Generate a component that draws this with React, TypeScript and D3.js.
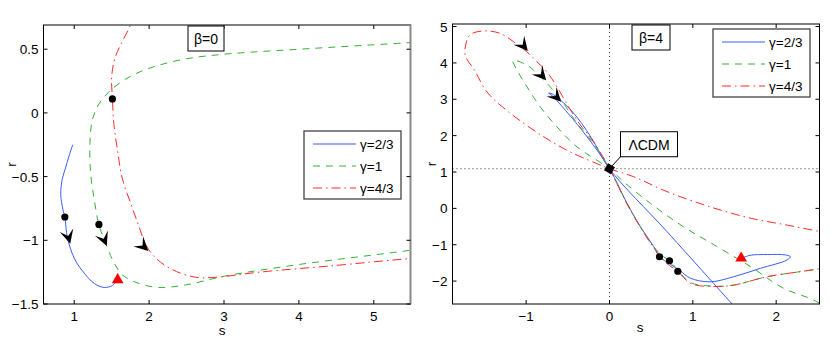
import React, { useEffect, useRef } from "react";
import * as d3 from "d3";

type Pt = [number, number];

// ---- beta = 0 panel (left) ----
const b0Blue: Pt[] = [
	[0.98, -0.25], [0.93, -0.34], [0.88, -0.44], [0.84, -0.52], [0.82, -0.64],
	[0.85, -0.76], [0.875, -0.82], [0.91, -0.98], [1.0, -1.14], [1.11, -1.24],
	[1.27, -1.34], [1.4, -1.37], [1.51, -1.355], [1.58, -1.31],
];
const b0Green: Pt[] = [
	[5.7, 0.56], [5.44, 0.55], [4.01, 0.5], [2.99, 0.46], [2.45, 0.42], [2.0, 0.35],
	[1.73, 0.28], [1.49, 0.18], [1.33, 0.07], [1.24, -0.06], [1.21, -0.24],
	[1.22, -0.48], [1.27, -0.69], [1.33, -0.88], [1.4, -0.99], [1.51, -1.15],
	[1.64, -1.27], [1.87, -1.34], [2.13, -1.37], [2.49, -1.35], [3.02, -1.28],
	[4.0, -1.19], [5.47, -1.08], [5.7, -1.06],
];
const b0Red: Pt[] = [
	[1.8, 0.78], [1.75, 0.69], [1.55, 0.44], [1.5, 0.28], [1.51, 0.12], [1.53, -0.09],
	[1.58, -0.3], [1.64, -0.51], [1.76, -0.72], [1.87, -0.9], [1.96, -1.04],
	[2.09, -1.14], [2.31, -1.23], [2.62, -1.29], [2.89, -1.29], [3.47, -1.25],
	[4.44, -1.2], [5.47, -1.145], [5.7, -1.14],
];
const b0Dots: Pt[] = [[0.875, -0.817], [1.33, -0.875], [1.51, 0.11]];
const b0Triangles: Pt[] = [[1.58, -1.31]];
// arrow tip and a point further along the curve (gives the direction)
const b0Arrows: [Pt, Pt][] = [
	[[0.947, -1.027], [1.0, -1.14]],
	[[1.435, -1.045], [1.51, -1.15]],
	[[1.99, -1.084], [2.09, -1.14]],
];

// ---- beta = 4 panel (right) ----
const b4Blue: Pt[] = [
	[1.59, -1.37], [1.69, -1.29], [1.9, -1.27], [2.11, -1.28], [2.17, -1.33],
	[2.13, -1.42], [1.81, -1.65], [1.49, -1.88], [1.21, -2.02], [0.97, -1.92],
	[0.85, -1.72], [0.72, -1.52], [0.6, -1.33], [0.53, -1.05], [0.37, -0.5],
	[0.21, 0.14], [0, 1.09], [-0.27, 1.97], [-0.5, 2.62], [-0.69, 3.1], [-0.73, 3.17],
	[-0.69, 3.15], [-0.45, 2.67], [-0.22, 1.95], [0, 1.09], [0.69, -0.64], [1.6, -2.96],
];
const b4Green: Pt[] = [
	[2.65, -2.8], [2.45, -2.52], [2.09, -2.2], [1.69, -1.6], [1.29, -1.05], [0.89, -0.51],
	[0.49, 0.14], [0.17, 0.73], [0, 1.09], [-0.39, 1.69], [-0.63, 2.24], [-0.83, 2.79],
	[-0.99, 3.34], [-1.13, 3.89], [-1.16, 4.07], [-0.99, 3.94], [-0.83, 3.62],
	[-0.71, 3.34], [-0.55, 2.88], [-0.39, 2.34], [-0.27, 2.01], [-0.12, 1.55], [0, 1.09],
	[0.21, 0.14], [0.37, -0.5], [0.53, -1.05], [0.63, -1.3], [0.72, -1.44], [0.85, -1.78],
	[0.97, -2.04], [1.25, -2.14], [1.49, -2.11], [1.89, -1.88], [2.29, -1.74], [2.65, -1.62],
];
const b4Red: Pt[] = [
	[2.65, -0.69], [2.53, -0.64], [2.13, -0.46], [1.69, -0.27], [1.21, 0.04], [0.69, 0.46],
	[0.29, 0.87], [0, 1.09], [-0.15, 1.23], [-0.47, 1.55], [-0.79, 1.97], [-1.21, 2.65],
	[-1.47, 3.2], [-1.62, 3.8], [-1.73, 4.2], [-1.72, 4.55], [-1.67, 4.78], [-1.51, 4.88],
	[-1.31, 4.81], [-1.15, 4.58], [-0.99, 4.3], [-0.87, 4.03], [-0.75, 3.75], [-0.63, 3.34],
	[-0.49, 2.79], [-0.35, 2.29], [-0.25, 2.01], [-0.1, 1.5], [0, 1.09], [0.21, 0.12],
	[0.37, -0.52], [0.53, -1.08], [0.68, -1.5], [0.82, -1.73], [0.97, -2.06], [1.25, -2.15],
	[1.49, -2.11], [1.89, -1.88], [2.29, -1.74], [2.65, -1.62],
];
const b4Dots: Pt[] = [[0.6, -1.33], [0.72, -1.44], [0.82, -1.73]];
const b4Triangles: Pt[] = [[1.58, -1.37]];
const b4Arrows: [Pt, Pt][] = [
	[[-0.98, 4.33], [-0.87, 4.03]],
	[[-0.76, 3.52], [-0.63, 3.18]],
	[[-0.58, 2.93], [-0.45, 2.62]],
];
const lcdmPoint: Pt = [0, 1.09];

// ticks and labels
const b0XTicks = [1, 2, 3, 4, 5];
const b0YTicks = [-1.5, -1, -0.5, 0, 0.5];
const b4XTicks = [-1, 0, 1, 2];
const b4YTicks = [-2, -1, 0, 1, 2, 3, 4, 5];
const seriesNames = ["γ=2/3", "γ=1", "γ=4/3"];

const BLUE = "#3a5cff";
const GREEN = "#35b035";
const RED = "#ff2a2a";
const styles = [
	{ color: BLUE, dash: null },
	{ color: GREEN, dash: "7,6" },
	{ color: RED, dash: "9,4,1.5,4" },
];

const fmt = (v: number) => (v < 0 ? "\u2212" + Math.abs(v) : String(v));

function drawPanel(svg: any, o: any) {
	const x = d3.scaleLinear().domain(o.sDomain).range([o.left, o.right]);
	const y = d3.scaleLinear().domain(o.rDomain).range([o.bottom, o.top]);
	const g = svg.append("g");

	g.append("clipPath")
		.attr("id", o.id)
		.append("rect")
		.attr("x", o.left)
		.attr("y", o.top)
		.attr("width", o.right - o.left)
		.attr("height", o.bottom - o.top);

	const plot = g.append("g").attr("clip-path", `url(#${o.id})`);

	// dotted guide lines
	if (o.guides) {
		plot.append("line")
			.attr("x1", x(0)).attr("x2", x(0))
			.attr("y1", o.top).attr("y2", o.bottom)
			.attr("stroke", "#333").attr("stroke-dasharray", "1,3");
		plot.append("line")
			.attr("x1", o.left).attr("x2", o.right)
			.attr("y1", y(o.guides[1])).attr("y2", y(o.guides[1]))
			.attr("stroke", "#333").attr("stroke-dasharray", "1,3");
	}

	const line = d3
		.line<Pt>()
		.x(d => x(d[0]))
		.y(d => y(d[1]))
		.curve(d3.curveCatmullRom.alpha(0.5));

	o.series.forEach((data: Pt[], i: number) => {
		plot.append("path")
			.datum(data)
			.attr("fill", "none")
			.attr("stroke", styles[i].color)
			.attr("stroke-width", 1)
			.attr("stroke-dasharray", styles[i].dash)
			.attr("d", line);
	});

	// arrows
	o.arrows.forEach(([tip, nxt]: [Pt, Pt]) => {
		const ang = (Math.atan2(y(nxt[1]) - y(tip[1]), x(nxt[0]) - x(tip[0])) * 180) / Math.PI;
		plot.append("path")
			.attr("d", "M0,0 L-14,-7 L-8,0 L-14,7 Z")
			.attr("fill", "#000")
			.attr("transform", `translate(${x(tip[0])},${y(tip[1])}) rotate(${ang})`);
	});

	plot.selectAll(".dot")
		.data(o.dots)
		.enter()
		.append("circle")
		.attr("cx", (d: Pt) => x(d[0]))
		.attr("cy", (d: Pt) => y(d[1]))
		.attr("r", 3.6)
		.attr("fill", "#000");

	plot.selectAll(".tri")
		.data(o.triangles)
		.enter()
		.append("path")
		.attr("d", d3.symbol().type(d3.symbolTriangle).size(60))
		.attr("fill", "red")
		.attr("transform", (d: Pt) => `translate(${x(d[0])},${y(d[1])})`);

	// frame and ticks
	g.append("rect")
		.attr("x", o.left).attr("y", o.top)
		.attr("width", o.right - o.left).attr("height", o.bottom - o.top)
		.attr("fill", "none").attr("stroke", "#000").attr("stroke-width", 1);
	if (o.greyRight) {
		g.append("line")
			.attr("x1", o.right).attr("x2", o.right)
			.attr("y1", o.top - 0.5).attr("y2", o.bottom)
			.attr("stroke", "#8a8a8a").attr("stroke-width", 2);
	}

	o.xTicks.forEach((t: number) => {
		g.append("line").attr("x1", x(t)).attr("x2", x(t))
			.attr("y1", o.bottom).attr("y2", o.bottom - 4).attr("stroke", "#000");
		g.append("line").attr("x1", x(t)).attr("x2", x(t))
			.attr("y1", o.top).attr("y2", o.top + 4).attr("stroke", "#000");
		g.append("text")
			.attr("x", x(t)).attr("y", o.bottom + 17)
			.attr("text-anchor", "middle")
			.style("font-size", "13.5px")
			.text(fmt(t));
	});
	o.yTicks.forEach((t: number) => {
		g.append("line").attr("x1", o.left).attr("x2", o.left + 4)
			.attr("y1", y(t)).attr("y2", y(t)).attr("stroke", "#000");
		g.append("line").attr("x1", o.right).attr("x2", o.right - 4)
			.attr("y1", y(t)).attr("y2", y(t)).attr("stroke", "#000");
		g.append("text")
			.attr("x", o.left - 5).attr("y", y(t) + 5)
			.attr("text-anchor", "end")
			.style("font-size", "13.5px")
			.text(fmt(t));
	});

	// axis labels
	g.append("text")
		.attr("x", (o.left + o.right) / 2 + o.sLabelDx)
		.attr("y", o.bottom + o.sLabelDy)
		.attr("text-anchor", "middle")
		.style("font-size", "13.5px")
		.text("s");
	g.append("text")
		.attr("transform", `translate(${o.rLabelX},${(o.top + o.bottom) / 2}) rotate(-90)`)
		.attr("text-anchor", "middle")
		.style("font-size", "13.5px")
		.text("r");

	// beta box
	const bb = o.betaBox;
	g.append("rect")
		.attr("x", bb[0]).attr("y", o.top + 1)
		.attr("width", bb[1]).attr("height", 25)
		.attr("fill", "#fff").attr("stroke", "#000");
	g.append("text")
		.attr("x", bb[0] + bb[1] / 2).attr("y", o.top + 19)
		.attr("text-anchor", "middle")
		.style("font-size", "14px")
		.text(o.betaText);

	// legend
	const lg = o.legend;
	g.append("rect")
		.attr("x", lg[0]).attr("y", lg[1])
		.attr("width", 97).attr("height", 68)
		.attr("fill", "#fff").attr("stroke", "#444").attr("stroke-width", 1.3);
	seriesNames.forEach((name, i) => {
		const ly = lg[1] + 13 + i * 22;
		g.append("line")
			.attr("x1", lg[0] + 9).attr("x2", lg[0] + 52)
			.attr("y1", ly).attr("y2", ly)
			.attr("stroke", styles[i].color)
			.attr("stroke-dasharray", styles[i].dash);
		g.append("text")
			.attr("x", lg[0] + 56).attr("y", ly + 5)
			.style("font-size", "13.5px")
			.text(name);
	});

	return { x, y, g };
}

export default function App() {
	const ref = useRef<SVGSVGElement>(null);

	useEffect(() => {
		const svg = d3.select(ref.current);
		svg.html("");

		drawPanel(svg, {
			id: "clipL",
			left: 43.5, right: 410.5, top: 25, bottom: 304,
			sDomain: [0.59, 5.49], rDomain: [-1.5, 0.69],
			series: [b0Blue, b0Green, b0Red],
			dots: b0Dots, triangles: b0Triangles, arrows: b0Arrows,
			xTicks: b0XTicks, yTicks: b0YTicks,
			sLabelDx: -5, sLabelDy: 31, rLabelX: 16,
			betaBox: [188, 36], betaText: "β=0",
			legend: [304, 131],
			greyRight: true,
		});

		const right = drawPanel(svg, {
			id: "clipR",
			left: 452.5, right: 819.5, top: 24, bottom: 304,
			sDomain: [-1.884, 2.52], rDomain: [-2.63, 5.07],
			series: [b4Blue, b4Green, b4Red],
			dots: b4Dots, triangles: b4Triangles, arrows: b4Arrows,
			xTicks: b4XTicks, yTicks: b4YTicks,
			sLabelDx: 4, sLabelDy: 28, rLabelX: 436,
			betaBox: [632, 38], betaText: "β=4",
			legend: [713, 29],
			guides: [0, lcdmPoint[1]],
		});

		// LCDM marker and annotation
		const { x, y, g } = right;
		const px = x(lcdmPoint[0]);
		const py = y(lcdmPoint[1]);
		g.append("line")
			.attr("x1", px).attr("y1", py)
			.attr("x2", px + 11).attr("y2", py - 12)
			.attr("stroke", "#000");
		g.append("rect")
			.attr("x", px - 4).attr("y", py - 4)
			.attr("width", 8).attr("height", 8)
			.attr("fill", "#000")
			.attr("transform", `rotate(30,${px},${py})`);
		g.append("rect")
			.attr("x", px + 11).attr("y", py - 37)
			.attr("width", 57).attr("height", 25)
			.attr("fill", "#fff").attr("stroke", "#000");
		g.append("text")
			.attr("x", px + 39.5).attr("y", py - 19)
			.attr("text-anchor", "middle")
			.style("font-size", "14px")
			.text("ΛCDM");
	}, []);

	return (
		<svg
			ref={ref}
			width={830}
			height={342}
			style={{
				position: "absolute",
				left: 0,
				top: 0,
				background: "#fff",
				fontFamily: "'Liberation Sans', Arial, sans-serif",
			}}
		/>
	);
}
